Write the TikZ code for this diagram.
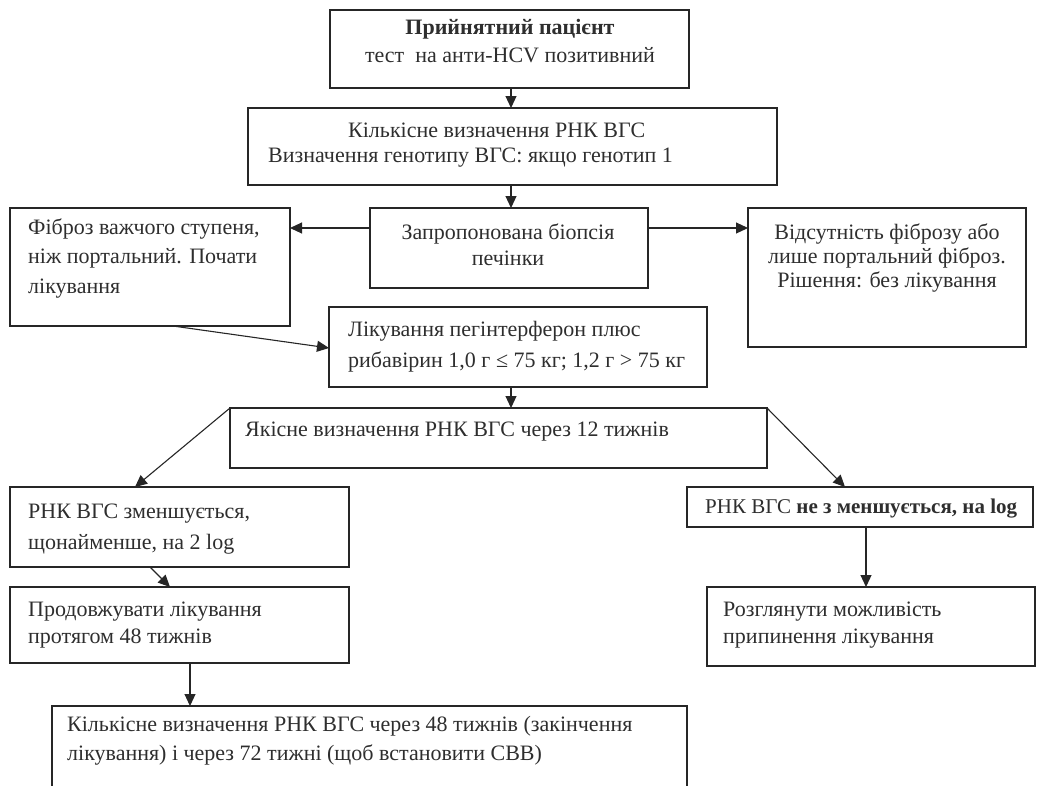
\documentclass[tikz,border=0pt]{standalone}
\usepackage{fontspec}
\setmainfont{Liberation Serif}
\usetikzlibrary{arrows.meta,calc}
\begin{document}
\begin{tikzpicture}[x=1pt,y=-1pt,
  box/.style={draw=black!85, line width=1.1pt, anchor=north west, inner sep=0pt, outer sep=0pt},
  txt/.style={text=black!82, inner sep=0pt},
  fs/.style={font=\fontsize{22}{#1}\selectfont},
  arr/.style={draw=black!85, line width=1.1pt, -{Triangle[length=12pt,width=11pt]}}
]
\clip (0,0) rectangle (1040,785);
% boxes
\node[box, minimum width=359, minimum height=78] (b1) at (330,10) {};
\node[box, minimum width=529, minimum height=77] (b2) at (248,108) {};
\node[box, minimum width=278, minimum height=80] (b3) at (370,208) {};
\node[box, minimum width=280, minimum height=118] (fib) at (10,208) {};
\node[box, minimum width=278, minimum height=139] (nofib) at (748,208) {};
\node[box, minimum width=378, minimum height=80] (tr) at (329,307) {};
\node[box, minimum width=537, minimum height=60] (w12) at (230,408) {};
\node[box, minimum width=339, minimum height=80] (zm) at (10,487) {};
\node[box, minimum width=339, minimum height=76] (pr) at (10,587) {};
\node[box, minimum width=346, minimum height=40] (ne) at (687,487) {};
\node[box, minimum width=328, minimum height=79] (rz) at (707,587) {};
\node[box, minimum width=635, minimum height=100] (fin) at (52,706) {};
% texts
\node[txt, fs=28, align=center] (t1) at (510,41) {\textbf{Прийнятний пацієнт}\\тест\ \ на анти-HCV позитивний};
\node[txt, fs=25, align=left, anchor=west] (t2) at (268,145) {\hspace*{80pt}Кількісне визначення РНК ВГС\\Визначення генотипу ВГС: якщо генотип 1};
\node[txt, fs=26, align=center] (t3) at (508,245) {Запропонована біопсія\\печінки};
\node[txt, fs=29.5, align=left, anchor=west] (t4) at (28,258) {Фіброз важчого ступеня,\\ніж портальний. Почати\\лікування};
\node[txt, fs=24, align=center] (t5) at (887,258) {Відсутність фіброзу або\\лише портальний фіброз.\\Рішення: без лікування};
\node[txt, fs=31, align=left, anchor=west] (t6) at (348,347) {Лікування пегінтерферон плюс\\рибавірин 1,0 г ≤ 75 кг; 1,2 г > 75 кг};
\node[txt, fs=28, align=left, anchor=west] (t7) at (245,432) {Якісне визначення РНК ВГС через 12 тижнів};
\node[txt, fs=31, align=left, anchor=west] (t8) at (28,529) {РНК ВГС зменшується,\\щонайменше, на 2 log};
\node[txt, fs=27, align=left, anchor=west] (t9) at (28,625) {Продовжувати лікування\\протягом 48 тижнів};
\node[txt, font=\fontsize{21}{28}\selectfont, align=left, anchor=west] (t10) at (705,509) {РНК ВГС \textbf{не з меншується, на log}};
\node[txt, fs=27, align=left, anchor=west] (t11) at (723,625) {Розглянути можливість\\припинення лікування};
\node[txt, fs=29, align=left, anchor=west] (t12) at (67,741) {Кількісне визначення РНК ВГС через 48 тижнів (закінчення\\лікування) і через 72 тижні (щоб встановити СВВ)};
% connectors
\draw[arr] ([xshift=181pt]b1.south west) -- ([xshift=263pt]b2.north west);
\draw[arr] ([xshift=263pt]b2.south west) -- ([xshift=141pt]b3.north west);
\draw[arr] ([yshift=-20pt]b3.north west) -- ([yshift=-20pt]fib.north east);
\draw[arr] ([yshift=-20pt]b3.north east) -- ([yshift=-20pt]nofib.north west);
\draw[arr] ([xshift=163pt]fib.south west) -- ([yshift=-41pt]tr.north west);
\draw[arr] ([xshift=182pt]tr.south west) -- ([xshift=281pt]w12.north west);
\draw[arr] (w12.north west) -- ([xshift=125pt]zm.north west);
\draw[arr] (w12.north east) -- ([xshift=158pt]ne.north west);
\draw[arr] ([xshift=140pt]zm.south west) -- ([xshift=160pt]pr.north west);
\draw[arr] ([xshift=180pt]pr.south west) -- ([xshift=138pt]fin.north west);
\draw[arr] ([xshift=179pt]ne.south west) -- ([xshift=159pt]rz.north west);
\end{tikzpicture}
\end{document}
